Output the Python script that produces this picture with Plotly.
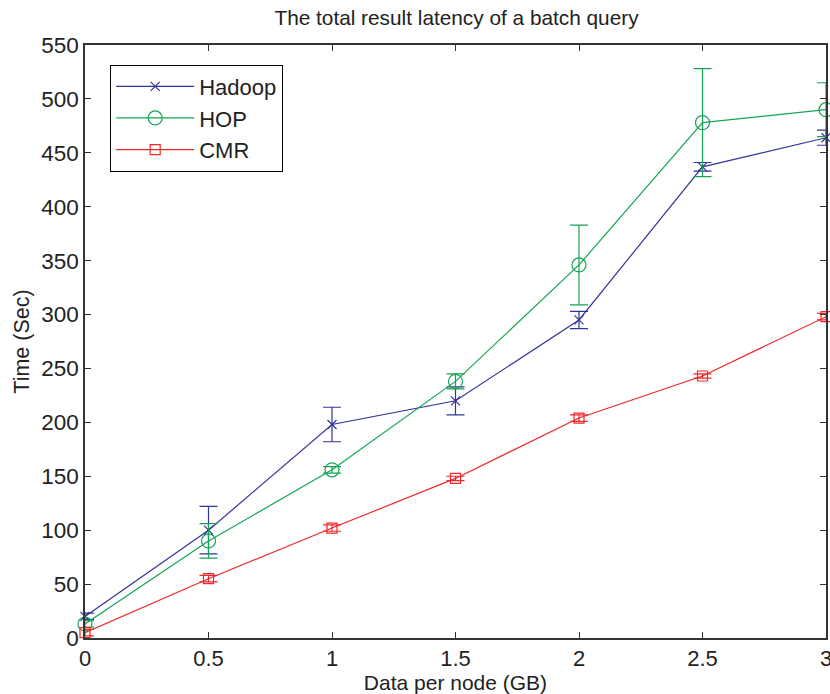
import plotly.graph_objects as go

x = [0, 0.5, 1, 1.5, 2, 2.5, 3]
hadoop = [20, 100, 198, 220, 295, 437, 464]
hadoop_err = [3, 22, 16, 13, 8, 4, 7]
hop = [13, 90, 156, 238, 346, 478, 490]
hop_err = [3, 16, 3, 7, 37, 50, 25]
cmr = [5, 55, 102, 148, 204, 243, 298]
cmr_err = [3, 3, 3, 2, 3, 2, 3]

series = [
    ("Hadoop", hadoop, hadoop_err, "#33339c", "x-thin-open", 9),
    ("HOP", hop, hop_err, "#15a455", "circle-open", 14),
    ("CMR", cmr, cmr_err, "#f0282a", "square-open", 10),
]

fig = go.Figure()
for name, y, e, c, sym, sz in series:
    fig.add_trace(go.Scatter(
        x=x, y=y, name=name, mode="lines+markers",
        line=dict(color=c, width=1.2),
        marker=dict(symbol=sym, size=sz, color=c, line=dict(color=c, width=1.2)),
        error_y=dict(type="data", array=e, visible=True, color=c, thickness=1.2, width=9),
        cliponaxis=False,
    ))

font = "Liberation Sans, Arial, Helvetica, sans-serif"
fig.update_layout(
    width=830, height=694,
    margin=dict(l=85, r=4, t=45, b=56, autoexpand=False),
    paper_bgcolor="white", plot_bgcolor="white",
    font=dict(family=font, color="#222222", size=22),
    title=dict(text="The total result latency of a batch query", x=0.55, xanchor="center",
               y=0.974, yanchor="middle", font=dict(size=20.8, color="#222222")),
    showlegend=True,
    legend=dict(x=0.034, y=0.967, xanchor="left", yanchor="top",
                bordercolor="black", borderwidth=1, bgcolor="white",
                font=dict(size=22), tracegroupgap=0, itemwidth=78),
)
fig.update_xaxes(range=[0, 3], tickvals=[0, 0.5, 1, 1.5, 2, 2.5, 3],
                 ticktext=["0", "0.5", "1", "1.5", "2", "2.5", "3"],
                 ticklabeloverflow="allow", tickfont=dict(size=22), automargin=False,
                 ticks="inside", ticklen=6, tickcolor="#333", showgrid=False, zeroline=False,
                 showline=True, linecolor="#333", linewidth=1.5, mirror="ticks",
                 title=dict(text="Data per node (GB)", font=dict(size=21), standoff=5))
fig.update_yaxes(range=[0, 550], tickvals=list(range(0, 551, 50)),
                 ticklabeloverflow="allow", tickfont=dict(size=22.5), automargin=False,
                 ticks="inside", ticklen=6, tickcolor="#333", showgrid=False, zeroline=False,
                 showline=True, linecolor="#333", linewidth=1.5, mirror="ticks",
                 title=dict(text="Time (Sec)", font=dict(size=21.5), standoff=6))

fig.write_html("out.html")
